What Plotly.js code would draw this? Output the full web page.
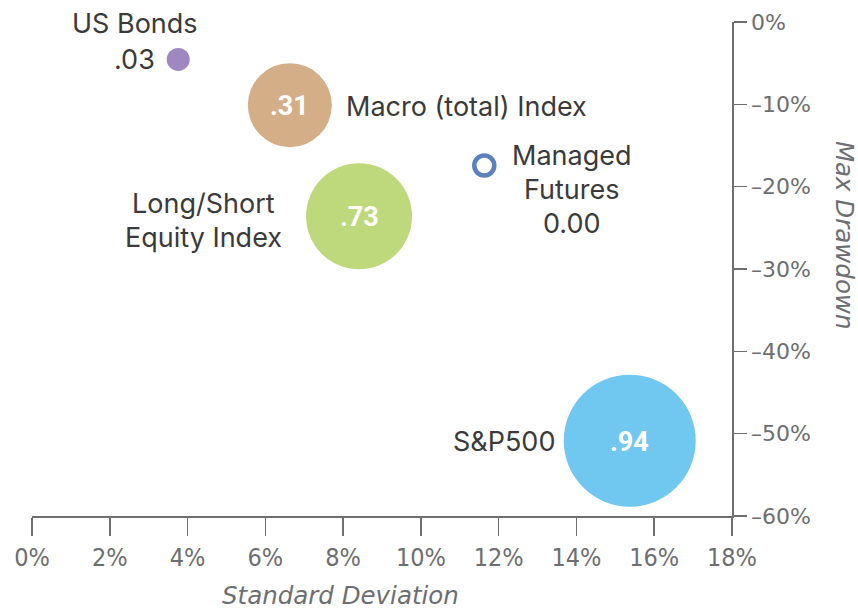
<!DOCTYPE html>
<html>
<head>
<meta charset="utf-8">
<script src="https://cdn.plot.ly/plotly-3.0.1.min.js"></script>
<style>html,body{margin:0;padding:0;background:#fff;}#chart{width:858px;height:609px;}</style>
</head>
<body>
<div id="chart"></div>
<script>
// ---- data ----
const assets = ["US Bonds", "Macro (total) Index", "Managed Futures", "Long/Short Equity Index", "S&P500"];
const stdDev = [3.76, 6.63, 11.63, 8.41, 15.37];          // % standard deviation
const maxDrawdown = [-4.54, -10.1, -17.43, -23.6, -50.85]; // % max drawdown
const correlation = [".03", ".31", "0.00", ".73", ".94"];   // correlation to S&P500
const xTickVals = [0, 2, 4, 6, 8, 10, 12, 14, 16, 18];
const yTickVals = [0, -10, -20, -30, -40, -50, -60];

// ---- styles ----
const colors = ["#9f88c1", "#d3ae87", "#5b80bb", "#bdd97c", "#70c7f0"];
const diameters = [23, 84, 20, 106, 132];
const gray = "#6d6e71";
const dark = "#3a3a3a";
const labelFont = {family: "Inter, 'Noto Sans', sans-serif", size: 27, color: dark};
const innerFont = {family: "Roboto, 'Noto Sans', sans-serif", size: 27, color: "#ffffff", weight: 700};
const titleFont = {family: "'DejaVu Sans', sans-serif", size: 24.5, color: gray, style: "italic"};

const traces = assets.map((name, i) => ({
  type: "scatter", mode: "markers", name: name,
  x: [stdDev[i]], y: [maxDrawdown[i]],
  marker: i === 2
    ? {symbol: "circle-open", size: diameters[i], color: colors[i], line: {color: colors[i], width: 4.5}}
    : {symbol: "circle", size: diameters[i], color: colors[i], line: {width: 0}},
  hoverinfo: "skip", showlegend: false
}));

function ann(i, text, opts) {
  return Object.assign({x: stdDev[i], y: maxDrawdown[i], xref: "x", yref: "y", text: text,
    showarrow: false, font: labelFont, xanchor: "center", yanchor: "middle"}, opts);
}

const annotations = [
  // US Bonds
  ann(0, "US Bonds", {xshift: -43, yshift: 36}),
  ann(0, correlation[0], {xanchor: "right", xshift: -21, yshift: 0}),
  // Macro
  ann(1, "Macro (total) Index", {xanchor: "left", xshift: 54, yshift: -1}),
  ann(1, correlation[1], {font: innerFont, yshift: -1}),
  // Managed Futures
  ann(2, "Managed", {xshift: 88, yshift: 10}),
  ann(2, "Futures", {xshift: 88, yshift: -24}),
  ann(2, correlation[2], {xshift: 88, yshift: -58}),
  // Long/Short
  ann(3, "Long/Short", {xshift: -156, yshift: 13}),
  ann(3, "Equity Index", {xshift: -156, yshift: -21}),
  ann(3, correlation[3], {font: innerFont, yshift: -1}),
  // S&P500
  ann(4, "S&P500", {xanchor: "right", xshift: -73, yshift: -1}),
  ann(4, correlation[4], {font: innerFont, yshift: -1}),
  // axis titles
  {xref: "paper", yref: "paper", x: 0.44, y: 0, yshift: -79, text: "Standard Deviation", showarrow: false,
   xanchor: "center", yanchor: "middle", font: titleFont},
  {xref: "paper", yref: "paper", x: 1, xshift: 112, y: 0.569, text: "Max Drawdown", showarrow: false,
   textangle: 90, xanchor: "center", yanchor: "middle", font: titleFont}
];

const layout = {
  width: 858, height: 609,
  margin: {l: 32, r: 126, t: 22, b: 93, pad: 0},
  paper_bgcolor: "#ffffff", plot_bgcolor: "#ffffff",
  xaxis: {
    range: [0, 18], tickvals: xTickVals, ticktext: xTickVals.map(v => v + "%"),
    showgrid: false, zeroline: false, showline: true, linecolor: gray, linewidth: 1.5,
    ticks: "outside", ticklen: 18, tickwidth: 1.5, tickcolor: gray,
    tickfont: {family: "'DejaVu Sans Condensed', 'DejaVu Sans', sans-serif", size: 25, color: gray},
    fixedrange: true
  },
  yaxis: {
    range: [-60, 0], side: "right", tickvals: yTickVals,
    ticktext: yTickVals.map(v => (v < 0 ? "\u2013" + Math.abs(v) : v) + "%"),
    showgrid: false, zeroline: false, showline: true, linecolor: gray, linewidth: 1.5,
    ticks: "outside", ticklen: 13, tickwidth: 1.5, tickcolor: gray,
    tickfont: {family: "'DejaVu Sans', sans-serif", size: 22, color: gray},
    fixedrange: true
  },
  annotations: annotations
};

Plotly.newPlot("chart", traces, layout, {displayModeBar: false, staticPlot: true});
</script>
</body>
</html>
